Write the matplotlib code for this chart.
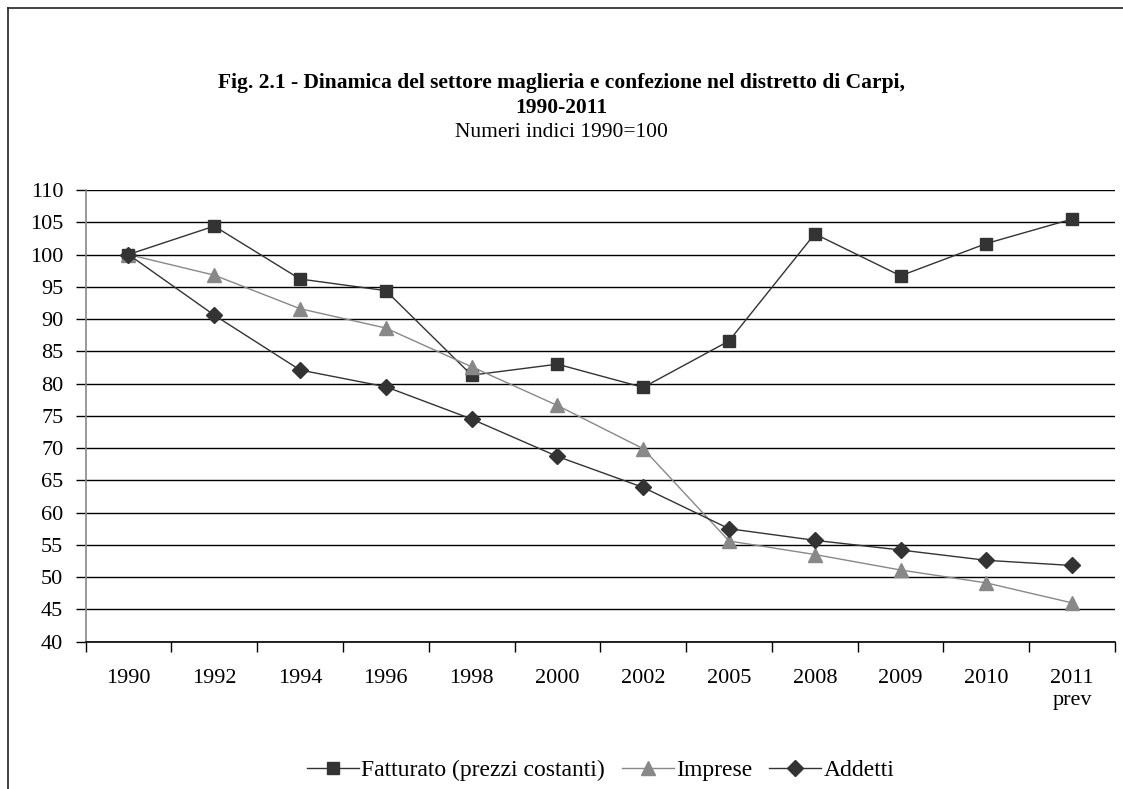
import matplotlib.pyplot as plt
from matplotlib.lines import Line2D

# data (index 1990=100)
years = ["1990", "1992", "1994", "1996", "1998", "2000", "2002",
         "2005", "2008", "2009", "2010", "2011\nprev"]
fatturato = [100, 104.4, 96.2, 94.4, 81.3, 83.0, 79.4, 86.6, 103.2, 96.7, 101.7, 105.5]
imprese = [100, 96.8, 91.6, 88.6, 82.6, 76.6, 69.9, 55.6, 53.5, 51.1, 49.1, 46.0]
addetti = [100, 90.6, 82.1, 79.5, 74.5, 68.7, 63.9, 57.5, 55.7, 54.2, 52.6, 51.8]

plt.rcParams['font.family'] = ['Liberation Serif', 'DejaVu Serif']

fig = plt.figure(figsize=(11.23, 7.89), dpi=100)
ax = fig.add_axes([0.0762, 0.1868, 0.9167, 0.5724])

x = list(range(len(years)))
dark = '#333333'
grey = '#888888'

ax.plot(x, fatturato, color=dark, lw=1.0, marker='s', ms=8.5,
        mfc=dark, mec=dark, label='Fatturato (prezzi costanti)', zorder=3)
ax.plot(x, imprese, color=grey, lw=1.0, marker='^', ms=10,
        mfc=grey, mec=grey, label='Imprese', zorder=3)
ax.plot(x, addetti, color=dark, lw=1.0, marker='D', ms=8,
        mfc=dark, mec=dark, label='Addetti', zorder=4)

ax.set_ylim(40, 110)
ax.set_yticks(range(40, 111, 5))
ax.set_xlim(-0.5, len(years) - 0.5)
ax.set_xticks(x)
ax.set_xticklabels(years)
ax.set_xticks([i - 0.5 for i in range(len(years) + 1)], minor=True)

ax.yaxis.grid(True, color='black', lw=1.0)
ax.set_axisbelow(True)
for s in ['top', 'right']:
    ax.spines[s].set_visible(False)
ax.spines['left'].set_color(grey)
ax.spines['left'].set_linewidth(1.2)
ax.spines['bottom'].set_color('black')
ax.spines['bottom'].set_linewidth(1.2)

ax.tick_params(axis='y', length=7, width=1, color='black', pad=9, labelsize=16)
ax.tick_params(axis='x', which='major', length=0, pad=20, labelsize=16)
ax.tick_params(axis='x', which='minor', length=7, width=1, color='black')

fig.text(0.5, 0.895, 'Fig. 2.1 - Dinamica del settore maglieria e confezione nel distretto di Carpi,',
         ha='center', va='center', fontsize=15.5, fontweight='bold')
fig.text(0.5, 0.863, '1990-2011', ha='center', va='center', fontsize=15.5, fontweight='bold')
fig.text(0.5, 0.832, 'Numeri indici 1990=100', ha='center', va='center', fontsize=15.5)

fig.legend(loc='center', bbox_to_anchor=(0.535, 0.024), ncol=3, frameon=False,
           fontsize=17, handlelength=2.2, handletextpad=0.12, columnspacing=0.7)

# outer frame (left and top edges visible)
fig.add_artist(Line2D([8 / 1123, 8 / 1123], [0, 1 - 8 / 789], color='#222222', lw=1.2))
fig.add_artist(Line2D([8 / 1123, 1], [1 - 8 / 789, 1 - 8 / 789], color='#222222', lw=1.2))

fig.savefig('out.png', dpi=100)
